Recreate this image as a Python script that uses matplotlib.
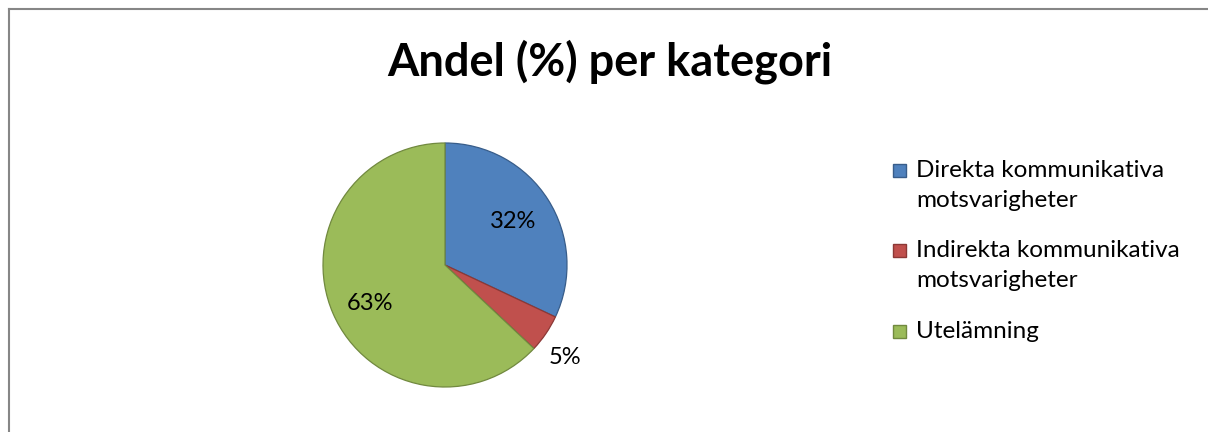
import numpy as np
import matplotlib.pyplot as plt
from matplotlib.patches import Rectangle
from matplotlib.lines import Line2D

plt.rcParams['font.family'] = ['Lato', 'DejaVu Sans']

# data
categories = ['Direkta kommunikativa\nmotsvarigheter',
              'Indirekta kommunikativa\nmotsvarigheter',
              'Utelämning']
shares = [32, 5, 63]
pct_labels = ['32%', '5%', '63%']

colors = ['#4F81BD', '#C0504D', '#9BBB59']
edges = ['#385D8A', '#8C3836', '#71893F']

W, H = 1208, 432
fig = plt.figure(figsize=(W / 100, H / 100), dpi=100)

# chart border (left and top visible, rest cut off)
fig.add_artist(Line2D([9 / W, 9 / W], [0, 1 - 9 / H], transform=fig.transFigure,
                      color='#868686', lw=1.5))
fig.add_artist(Line2D([9 / W, 1], [1 - 9 / H, 1 - 9 / H], transform=fig.transFigure,
                      color='#868686', lw=1.5))

fig.text(610 / W, 1 - 62 / H, 'Andel (%) per kategori', ha='center', va='center',
         fontsize=32.5, fontweight='bold')

# pie axes: center (445, 265) px, radius 122 px
cx, cy, r = 445, 265, 122
ax = fig.add_axes([(cx - r) / W, (H - cy - r) / H, 2 * r / W, 2 * r / H])
wedges, _ = ax.pie(shares, colors=colors, startangle=90, counterclock=False,
                   wedgeprops=dict(linewidth=0.9))
for w, ec in zip(wedges, edges):
    w.set_edgecolor(ec)
ax.set_xlim(-1, 1)
ax.set_ylim(-1, 1)
ax.set_aspect('equal')
ax.axis('off')

dists = [0.66, 1.24, 0.69]
offs = [0, -3.3, 4]
for w, lab, d, o in zip(wedges, pct_labels, dists, offs):
    ang = np.deg2rad((w.theta1 + w.theta2) / 2 + o)
    ax.text(d * np.cos(ang), d * np.sin(ang), lab, ha='center', va='center',
            fontsize=17, clip_on=False)

# legend drawn by hand: square aligned with first line of each entry
leg_y = [170, 250, 331]
for y, c, ec, lab in zip(leg_y, colors, edges, categories):
    fig.add_artist(Rectangle((893 / W, 1 - (y + 6.5) / H), 13 / W, 13 / H,
                             transform=fig.transFigure, facecolor=c,
                             edgecolor=ec, lw=1))
    fig.text(916 / W, 1 - (y - 10) / H, lab, ha='left', va='top',
             fontsize=17.5, linespacing=1.55)

fig.savefig('out.png', dpi=100)
